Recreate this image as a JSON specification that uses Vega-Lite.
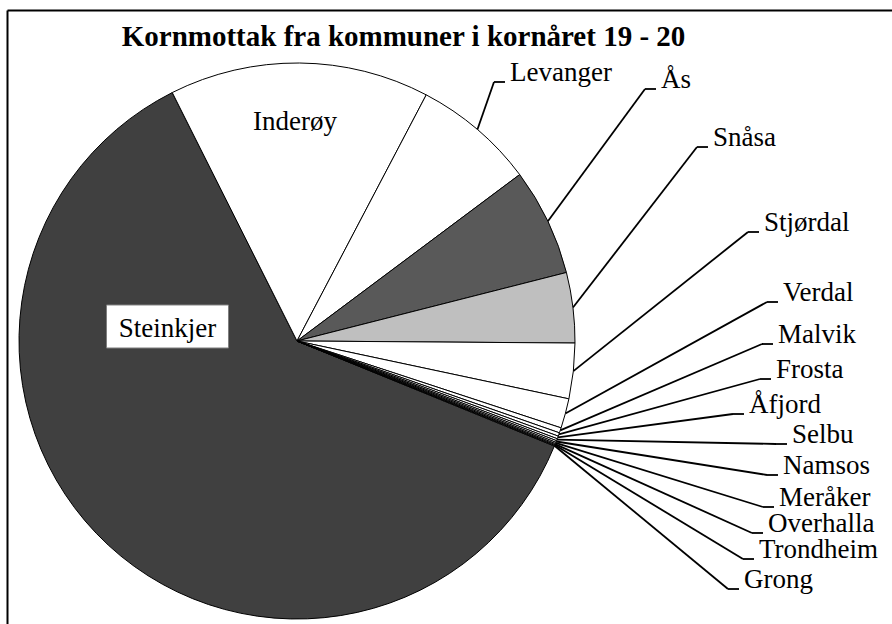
{
  "$schema": "https://vega.github.io/schema/vega-lite/v6.json",
  "width": 885,
  "height": 614,
  "autosize": "none",
  "padding": {"left": 7, "top": 10, "right": 0, "bottom": 0},
  "background": "white",
  "title": {
    "text": "Kornmottak fra kommuner i kornåret 19 - 20",
    "font": "'Liberation Serif', 'Times New Roman', 'DejaVu Serif', serif",
    "fontSize": 29,
    "fontWeight": "bold",
    "color": "#000000",
    "anchor": "middle",
    "baseline": "alphabetic",
    "dx": -46,
    "dy": 69
  },
  "config": {
    "view": {"stroke": null},
    "axis": {"domain": true, "domainColor": "#000000", "domainWidth": 2, "ticks": false, "labels": false, "grid": false}
  },
  "datasets": {
    "kommuner": [
      {"kommune": "Steinkjer", "andel": 61.42},
      {"kommune": "Inderøy", "andel": 15.10},
      {"kommune": "Levanger", "andel": 7.09},
      {"kommune": "Ås", "andel": 6.25},
      {"kommune": "Snåsa", "andel": 4.08},
      {"kommune": "Stjørdal", "andel": 3.22},
      {"kommune": "Verdal", "andel": 1.72},
      {"kommune": "Malvik", "andel": 0.30},
      {"kommune": "Frosta", "andel": 0.20},
      {"kommune": "Åfjord", "andel": 0.16},
      {"kommune": "Selbu", "andel": 0.12},
      {"kommune": "Namsos", "andel": 0.10},
      {"kommune": "Meråker", "andel": 0.08},
      {"kommune": "Overhalla", "andel": 0.06},
      {"kommune": "Trondheim", "andel": 0.05},
      {"kommune": "Grong", "andel": 0.04}
    ],
    "etiketter": [
      {"kommune": "Steinkjer", "plass": "inne", "lx": -0.4658, "ly": 0.0144},
      {"kommune": "Inderøy", "plass": "inne", "lx": -0.0072, "ly": 0.7590},
      {"kommune": "Levanger", "plass": "ute", "lx": 0.7086, "ly": 0.9317},
      {"kommune": "Ås", "plass": "ute", "lx": 1.2518, "ly": 0.9065},
      {"kommune": "Snåsa", "plass": "ute", "lx": 1.4388, "ly": 0.6978},
      {"kommune": "Stjørdal", "plass": "ute", "lx": 1.6223, "ly": 0.3921},
      {"kommune": "Verdal", "plass": "ute", "lx": 1.6906, "ly": 0.1403},
      {"kommune": "Malvik", "plass": "ute", "lx": 1.6727, "ly": -0.0108},
      {"kommune": "Frosta", "plass": "ute", "lx": 1.6655, "ly": -0.1367},
      {"kommune": "Åfjord", "plass": "ute", "lx": 1.5683, "ly": -0.2626},
      {"kommune": "Selbu", "plass": "ute", "lx": 1.7230, "ly": -0.3705},
      {"kommune": "Namsos", "plass": "ute", "lx": 1.6906, "ly": -0.4820},
      {"kommune": "Meråker", "plass": "ute", "lx": 1.6763, "ly": -0.5971},
      {"kommune": "Overhalla", "plass": "ute", "lx": 1.6367, "ly": -0.6906},
      {"kommune": "Trondheim", "plass": "ute", "lx": 1.6043, "ly": -0.7842},
      {"kommune": "Grong", "plass": "ute", "lx": 1.5504, "ly": -0.8921}
    ]
  },
  "layer": [
    {
      "data": {"name": "kommuner"},
      "transform": [{"window": [{"op": "row_number", "as": "rad"}]}],
      "mark": {"type": "arc", "radius": 278, "stroke": "#000000", "strokeWidth": 1},
      "encoding": {
        "x": {"datum": 0, "type": "quantitative", "scale": {"domain": [-1.04317, 2.14029], "nice": false, "zero": false}, "axis": {"orient": "top", "title": null}},
        "y": {"datum": 0, "type": "quantitative", "scale": {"domain": [-1.01799, 1.19065], "nice": false, "zero": false}, "axis": {"orient": "left", "title": null}},
        "theta": {"field": "andel", "type": "quantitative", "stack": true, "scale": {"range": [1.9583, 8.2415]}},
        "order": {"field": "rad", "type": "quantitative"},
        "color": {
          "field": "kommune",
          "type": "nominal",
          "legend": null,
          "scale": {
            "domain": ["Steinkjer", "Inderøy", "Levanger", "Ås", "Snåsa", "Stjørdal", "Verdal", "Malvik", "Frosta", "Åfjord", "Selbu", "Namsos", "Meråker", "Overhalla", "Trondheim", "Grong"],
            "range": ["#404040", "#ffffff", "#ffffff", "#595959", "#bfbfbf", "#ffffff", "#ffffff", "#ffffff", "#ffffff", "#ffffff", "#ffffff", "#ffffff", "#ffffff", "#ffffff", "#ffffff", "#ffffff"]
          }
        }
      }
    },
    {
      "data": {"name": "kommuner"},
      "transform": [
        {"window": [{"op": "row_number", "as": "rad"}]},
        {"window": [{"op": "sum", "field": "andel", "as": "kum"}], "sort": [{"field": "rad"}], "frame": [null, 0]},
        {"joinaggregate": [{"op": "sum", "field": "andel", "as": "total"}]},
        {"calculate": "1.9583 + 2 * PI * (datum.kum - datum.andel / 2) / datum.total", "as": "vinkel"},
        {"calculate": "sin(datum.vinkel)", "as": "sx"},
        {"calculate": "cos(datum.vinkel)", "as": "sy"},
        {"lookup": "kommune", "from": {"data": {"name": "etiketter"}, "key": "kommune", "fields": ["plass", "lx", "ly"]}},
        {"filter": "datum.plass === 'ute'"}
      ],
      "mark": {"type": "rule", "color": "#000000", "strokeWidth": 1.8},
      "encoding": {
        "x": {"field": "sx", "type": "quantitative"},
        "y": {"field": "sy", "type": "quantitative"},
        "x2": {"field": "lx"},
        "y2": {"field": "ly"}
      }
    },
    {
      "data": {"name": "etiketter"},
      "transform": [{"filter": "datum.plass === 'ute'"}],
      "mark": {"type": "rule", "color": "#000000", "strokeWidth": 1.8, "x2Offset": 11},
      "encoding": {
        "x": {"field": "lx", "type": "quantitative"},
        "x2": {"field": "lx"},
        "y": {"field": "ly", "type": "quantitative"}
      }
    },
    {
      "data": {"name": "etiketter"},
      "transform": [{"filter": "datum.kommune === 'Steinkjer'"}],
      "mark": {"type": "point", "shape": "M-1,-0.3525L1,-0.3525L1,0.3525L-1,0.3525Z", "size": 14884, "filled": true, "fill": "#ffffff", "stroke": "#7f7f7f", "strokeWidth": 1, "opacity": 1, "yOffset": -10.5},
      "encoding": {
        "x": {"field": "lx", "type": "quantitative"},
        "y": {"field": "ly", "type": "quantitative"}
      }
    },
    {
      "data": {"name": "etiketter"},
      "transform": [{"filter": "datum.plass === 'inne'"}],
      "mark": {"type": "text", "font": "'Liberation Serif', 'Times New Roman', 'DejaVu Serif', serif", "fontSize": 27, "align": "center", "baseline": "alphabetic", "color": "#000000"},
      "encoding": {
        "x": {"field": "lx", "type": "quantitative"},
        "y": {"field": "ly", "type": "quantitative"},
        "text": {"field": "kommune"}
      }
    },
    {
      "data": {"name": "etiketter"},
      "transform": [{"filter": "datum.plass === 'ute'"}],
      "mark": {"type": "text", "font": "'Liberation Serif', 'Times New Roman', 'DejaVu Serif', serif", "fontSize": 27, "align": "left", "baseline": "alphabetic", "dx": 16, "dy": -1, "color": "#000000"},
      "encoding": {
        "x": {"field": "lx", "type": "quantitative"},
        "y": {"field": "ly", "type": "quantitative"},
        "text": {"field": "kommune"}
      }
    }
  ]
}
